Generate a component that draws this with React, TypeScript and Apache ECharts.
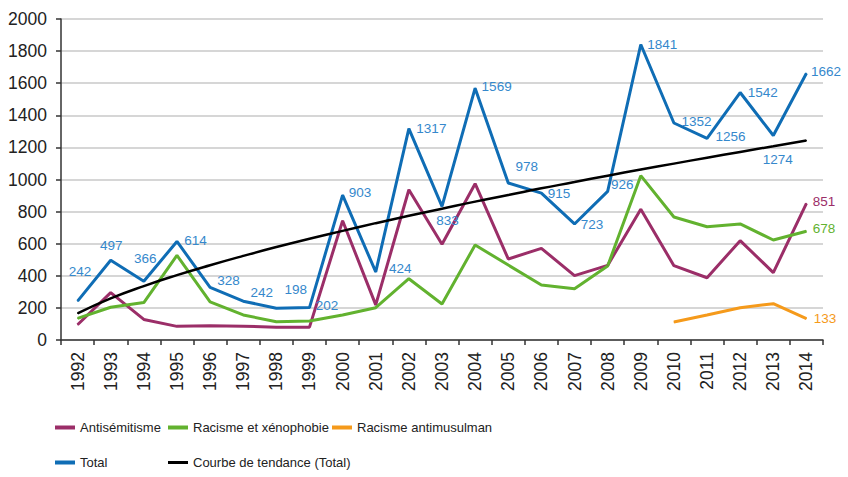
import React, { useEffect, useRef } from "react";
import * as echarts from "echarts";

const years = ["1992","1993","1994","1995","1996","1997","1998","1999","2000","2001","2002","2003","2004","2005","2006","2007","2008","2009","2010","2011","2012","2013","2014"];
const total = [242,497,366,614,328,242,198,202,903,424,1317,833,1569,978,915,723,926,1841,1352,1256,1542,1274,1662];
const antisemitisme = [95,295,128,85,89,86,80,80,743,219,936,596,974,505,571,401,465,815,463,388,619,420,851];
const racisme = [135,204,233,527,237,156,114,118,156,201,382,224,592,467,343,320,461,1024,766,706,723,623,678];
const antimusulman: (number | string)[] = ["-","-","-","-","-","-","-","-","-","-","-","-","-","-","-","-","-","-",112,156,201,226,133];
const tendance = [166,259,336,404,466,524,579,631,680,728,774,818,862,903,945,984,1024,1062,1099,1136,1172,1207,1243];

// label placement (style only): offset of label centre from point, px
const totalLabelOffsets: [number, number][] = [
  [3,-29],[1,-14],[2,-22],[19,0],[19,-6],[19,-8],[20,-18],[18,-2],[18,-2],[25,-3],[23,0],[6,15],
  [22,-1],[19,-16],[18,1],[18,1],[15,-6],[22,0],[23,-1],[24,-1],[23,0],[5,24],[20,-1]
];

const NUM_FONT = "Arial";
const TXT_FONT = "Arial";

const C_BLUE = "#0f6db5";
const C_BLUE_LBL = "#3588cc";
const C_PURPLE = "#9b2e68";
const C_GREEN = "#62b22f";
const C_ORANGE = "#f59a1b";

function lastLabel(arr: (number | string)[], color: string, off: [number, number]) {
  return arr.map((v, i) =>
    i === arr.length - 1
      ? {
          value: v,
          label: {
            show: true,
            position: off,
            align: "center",
            verticalAlign: "middle",
            color,
            fontSize: 13.5,
            fontFamily: NUM_FONT,
            formatter: "{c}",
          },
        }
      : v
  );
}

export default function App() {
  const ref = useRef<HTMLDivElement>(null);
  useEffect(() => {
    if (!ref.current) return;
    const chart = echarts.init(ref.current, undefined, { renderer: "svg" });
    const lineBase = {
      type: "line",
      symbol: "circle",
      symbolSize: 1,
      showSymbol: true,
      lineStyle: { width: 3 },
      emphasis: { disabled: true },
    };
    const legendBase = {
      padding: 0,
      itemWidth: 20,
      itemHeight: 4,
      icon: "rect",
      textStyle: { fontSize: 13, color: "#222", fontFamily: TXT_FONT },
      selectedMode: false,
    };
    chart.setOption({
      animation: false,
      grid: { left: 61, right: 25, top: 19, bottom: 137, containLabel: false },
      legend: [
        { ...legendBase, data: ["Antisémitisme"], left: 55, top: 421 },
        { ...legendBase, data: ["Racisme et xénophobie"], left: 168, top: 421 },
        { ...legendBase, data: ["Racisme antimusulman"], left: 332, top: 421 },
        { ...legendBase, data: ["Total"], left: 55, top: 456 },
        { ...legendBase, itemHeight: 3, data: ["Courbe de tendance (Total)"], left: 168, top: 456 },
      ],
      xAxis: {
        type: "category",
        data: years,
        boundaryGap: true,
        axisLine: { lineStyle: { color: "#333", width: 1.5 } },
        axisTick: { show: true, length: 5, lineStyle: { color: "#333", width: 1.5 } },
        axisLabel: {
          rotate: 90,
          margin: 12,
          fontSize: 17.5,
          color: "#222",
          fontFamily: NUM_FONT,
          interval: 0,
        },
      },
      yAxis: {
        type: "value",
        min: 0,
        max: 2000,
        interval: 200,
        axisLine: { show: true, lineStyle: { color: "#333", width: 1.5 } },
        axisTick: { show: true, length: 5, lineStyle: { color: "#333", width: 1.5 } },
        axisLabel: {
          margin: 14,
          fontSize: 17.5,
          color: "#222",
          fontFamily: NUM_FONT,
          formatter: (v: number) => String(v),
        },
        splitLine: { show: true, lineStyle: { color: "#c8c8c8", width: 1.5 } },
      },
      series: [
        {
          ...lineBase,
          name: "Antisémitisme",
          color: C_PURPLE,
          data: lastLabel(antisemitisme, C_PURPLE, [18, -1]),
        },
        {
          ...lineBase,
          name: "Racisme et xénophobie",
          color: C_GREEN,
          data: lastLabel(racisme, C_GREEN, [18, -2]),
        },
        {
          ...lineBase,
          name: "Racisme antimusulman",
          color: C_ORANGE,
          data: lastLabel(antimusulman, C_ORANGE, [19, 0]),
        },
        {
          ...lineBase,
          name: "Total",
          color: C_BLUE,
          data: total.map((v, i) => ({
            value: v,
            label: {
              show: true,
              position: totalLabelOffsets[i],
              align: "center",
              verticalAlign: "middle",
              color: C_BLUE_LBL,
              fontSize: 13.5,
              fontFamily: NUM_FONT,
              formatter: "{c}",
            },
          })),
        },
        {
          ...lineBase,
          name: "Courbe de tendance (Total)",
          color: "#000",
          smooth: true,
          lineStyle: { width: 2.5 },
          data: tendance,
        },
      ],
    });
    return () => chart.dispose();
  }, []);
  return <div ref={ref} style={{ width: 848, height: 477, position: "absolute", left: 0, top: 0 }} />;
}
